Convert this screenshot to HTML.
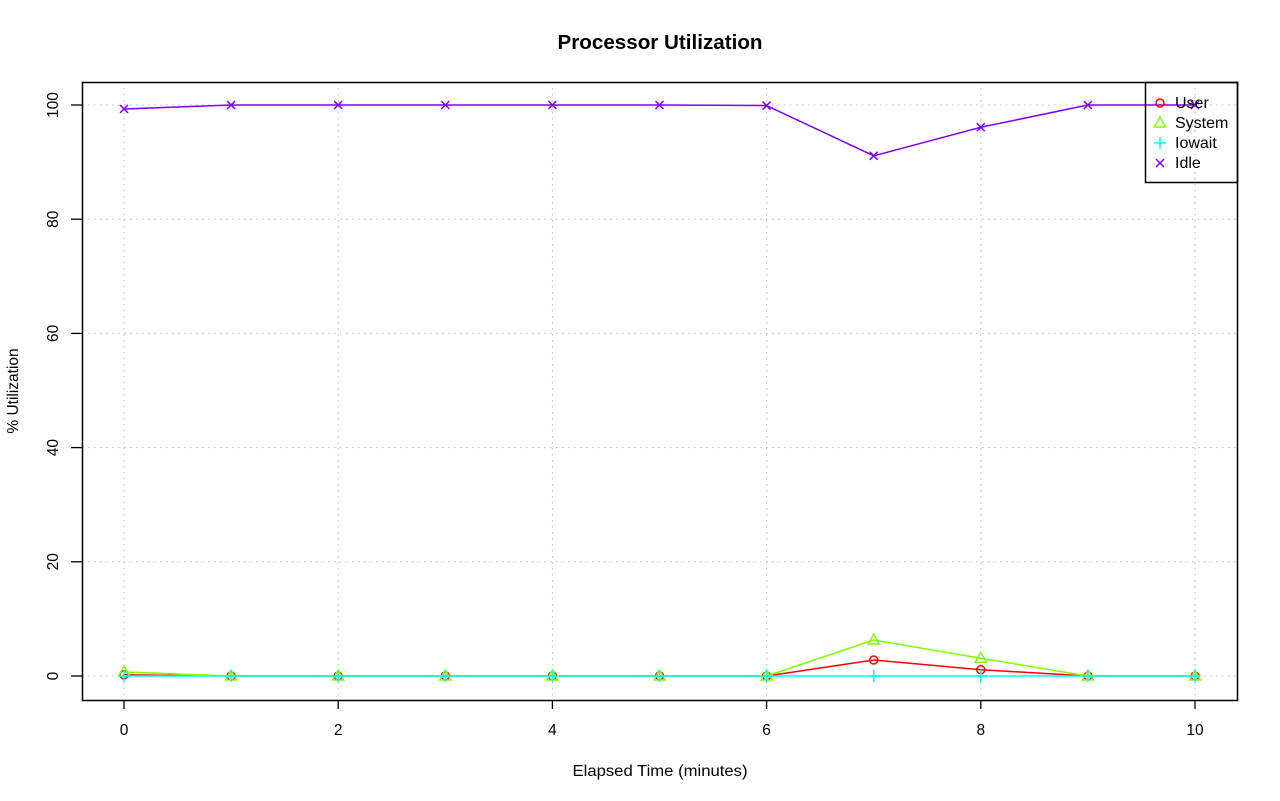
<!DOCTYPE html>
<html><head><style>body{margin:0;background:#fff}svg{display:block}</style></head>
<body>
<svg id="s" width="1280" height="801" xmlns="http://www.w3.org/2000/svg" font-family="Liberation Sans, sans-serif">
<rect width="1280" height="801" fill="#fff"/>
<text x="660" y="49" text-anchor="middle" font-size="20" font-weight="bold" textLength="205" lengthAdjust="spacingAndGlyphs">Processor Utilization</text>
<text x="660" y="776" text-anchor="middle" font-size="15.5" textLength="175" lengthAdjust="spacingAndGlyphs">Elapsed Time (minutes)</text>
<text transform="translate(18,391) rotate(-90)" text-anchor="middle" font-size="15.5">% Utilization</text>
<g id="g"></g>
<rect x="82.5" y="82.5" width="1155" height="618" fill="none" stroke="#000" stroke-width="1.5"/>
</svg>
<script>
var g=document.getElementById('g'),h='';
function X(v){return 124+v*107.1}function Y(v){return 676-v*5.71}
for(var i=0;i<=10;i+=2){h+='<line x1="'+X(i)+'" y1="82" x2="'+X(i)+'" y2="700" stroke="#bbb" stroke-dasharray="1.5,4.5"/>';
h+='<line x1="'+X(i)+'" y1="700" x2="'+X(i)+'" y2="709" stroke="#000" stroke-width="1.3"/>';
h+='<text x="'+X(i)+'" y="735" text-anchor="middle" font-size="15.5">'+i+'</text>';}
for(var j=0;j<=100;j+=20){var y=Y(j);h+='<line x1="82" y1="'+y+'" x2="1238" y2="'+y+'" stroke="#bbb" stroke-dasharray="1.5,4.5"/>';
h+='<line x1="71" y1="'+y+'" x2="82" y2="'+y+'" stroke="#000" stroke-width="1.3"/>';
h+='<text transform="translate(58,'+y+') rotate(-90)" text-anchor="middle" font-size="15.5">'+j+'</text>';}
var S=[['#ff0000',[0.2,0,0,0,0,0,0,2.8,1.1,0,0],'o'],['#80ff00',[0.7,0,0,0,0,0,0,6.3,3.1,0,0],'t'],['#00ffff',[0,0,0,0,0,0,0,0,0,0,0],'p'],['#8000ff',[99.3,100,100,100,100,100,99.9,91.1,96.1,100,100],'x']];
function M(t,x,y,c){if(t=='o')return '<circle cx="'+x+'" cy="'+y+'" r="4" fill="none" stroke="'+c+'" stroke-width="1.5"/>';
if(t=='t')return '<polygon points="'+x+','+(y-6)+' '+(x-5.5)+','+(y+4)+' '+(x+5.5)+','+(y+4)+'" fill="none" stroke="'+c+'" stroke-width="1.5"/>';
if(t=='p')return '<path d="M'+(x-6)+' '+y+'h12M'+x+' '+(y-6)+'v12" stroke="'+c+'" stroke-width="1.5"/>';
return '<path d="M'+(x-4)+' '+(y-4)+'l8 8M'+(x-4)+' '+(y+4)+'l8 -8" stroke="'+c+'" stroke-width="1.5"/>';}
S.forEach(function(s){var p=s[1].map(function(v,i){return X(i)+','+Y(v)}).join(' ');
h+='<polyline points="'+p+'" fill="none" stroke="'+s[0]+'" stroke-width="1.5"/>';
s[1].forEach(function(v,i){h+=M(s[2],X(i),Y(v),s[0])});});
h+='<rect x="1145.5" y="82.5" width="92" height="100" fill="none" stroke="#000" stroke-width="1.5"/>';
var L=['User','System','Iowait','Idle'];
L.forEach(function(n,k){var y=103+k*20;h+=M(S[k][2],1160,y,S[k][0]);h+='<text x="1175" y="'+(y+5)+'" font-size="16">'+n+'</text>';});
g.innerHTML=h;
</script>
</body></html>
